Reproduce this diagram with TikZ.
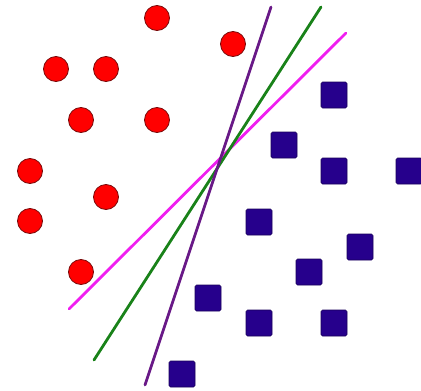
\documentclass[tikz,border=0pt]{standalone}
\definecolor{dotred}{RGB}{255,0,0}
\definecolor{dotedge}{RGB}{120,10,10}
\definecolor{sqblue}{RGB}{38,0,140}
\definecolor{sqedge}{RGB}{25,0,90}
\definecolor{linepurple}{RGB}{105,25,135}
\definecolor{linegreen}{RGB}{25,130,25}
\definecolor{linemagenta}{RGB}{240,30,240}
\tikzset{
  dot/.style={circle, fill=dotred, draw=dotedge, line width=0.8pt, minimum size=25pt, inner sep=0pt},
  sq/.style={rectangle, rounded corners=1.5pt, fill=sqblue, draw=sqedge, line width=0.6pt, minimum size=26pt, inner sep=0pt},
  sep/.style={line width=2.8pt, line cap=round}
}
\begin{document}
\begin{tikzpicture}[x=1pt, y=-1pt]
\useasboundingbox (0,0) rectangle (421,391);
% separating lines
\coordinate (pA) at (145,385);
\coordinate (pB) at (271,7);
\coordinate (gA) at (94,360);
\coordinate (gB) at (321,7);
\coordinate (mA) at (69,309);
\coordinate (mB) at (346,33);
\draw[sep, linemagenta] (mA) -- (mB);
\draw[sep, linegreen] (gA) -- (gB);
\draw[sep, linepurple] (pA) -- (pB);
% red circles
\node[dot] (c1) at (157,18) {};
\node[dot] (c2) at (233,44) {};
\node[dot] (c3) at (56,69) {};
\node[dot] (c4) at (106,69) {};
\node[dot] (c5) at (81,120) {};
\node[dot] (c6) at (157,120) {};
\node[dot] (c7) at (30,171) {};
\node[dot] (c8) at (106,197) {};
\node[dot] (c9) at (30,221) {};
\node[dot] (c10) at (81,272) {};
% blue squares
\node[sq] (s1) at (334,95) {};
\node[sq] (s2) at (284,145) {};
\node[sq] (s3) at (334,171) {};
\node[sq] (s4) at (409,171) {};
\node[sq] (s5) at (259,222) {};
\node[sq] (s6) at (360,247) {};
\node[sq] (s7) at (309,272) {};
\node[sq] (s8) at (208,298) {};
\node[sq] (s9) at (259,323) {};
\node[sq] (s10) at (334,323) {};
\node[sq] (s11) at (182,374) {};
\end{tikzpicture}
\end{document}
